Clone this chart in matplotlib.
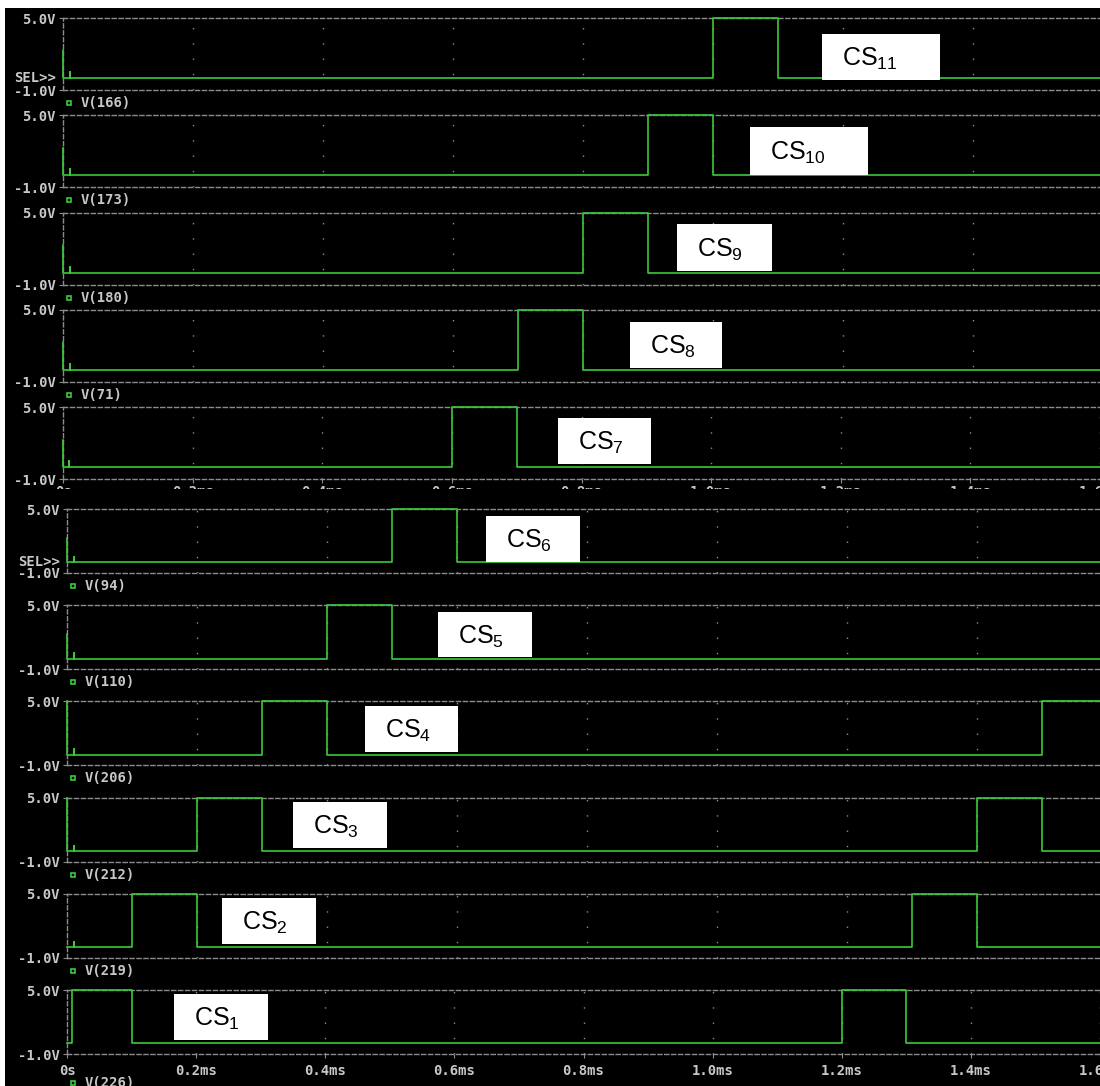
import matplotlib
matplotlib.use('Agg')
import matplotlib.pyplot as plt
from matplotlib.patches import Rectangle
from matplotlib.lines import Line2D
import numpy as np

W, H = 1100, 1086

# chip-select signals, top to bottom (two stacked simulator screens)
cs_index = ['11', '10', '9', '8', '7', '6', '5', '4', '3', '2', '1']
node_below = ['V(166)', 'V(173)', 'V(180)', 'V(71)', None,
              'V(94)', 'V(110)', 'V(206)', 'V(212)', 'V(219)', 'V(226)']
# pulse edges in ms (high = 5 V, low = 0 V)
pulse_on = [[1.0], [0.9], [0.8], [0.7], [0.6], [0.5], [0.4],
            [0.3, 1.5], [0.2, 1.4], [0.1, 1.3], [0.008, 1.2]]
pulse_off = [[1.1], [1.0], [0.9], [0.8], [0.7], [0.6], [0.5],
             [0.4, 1.6], [0.3, 1.5], [0.2, 1.4], [0.1, 1.3]]
start_spike = [2.3, 2.3, 2.3, 2.3, 2.3, 2.3, 2.3, 5.0, 5.0, 0.0, 0.0]
glitch_v = [0.5, 0.5, 0.5, 0.5, 0.5, 0.5, 0.5, 0.5, 0.5, 0.5, 0.0]
glitch_t = 0.01
t_end = 1.7
tick_t = [0, 0.2, 0.4, 0.6, 0.8, 1.0, 1.2, 1.4, 1.6]
tick_lbl = ['0s', '0.2ms', '0.4ms', '0.6ms', '0.8ms', '1.0ms', '1.2ms', '1.4ms', '1.6ms']

GREEN = '#3cc83c'
GRID = '#8c8c8c'
TXT = '#c8c8c8'
MONO = dict(family='DejaVu Sans Mono', weight='bold', size=10, color=TXT)

fig = plt.figure(figsize=(W / 100, H / 100), dpi=100, facecolor='white')


def fx(x):
    return x / W


def fy(y):
    return 1 - y / H


def screen(ytop, ybot):
    s = fig.add_axes([fx(5), fy(ybot), fx(W - 5), (ybot - ytop) / H])
    s.set_facecolor('black')
    s.set_xticks([])
    s.set_yticks([])
    for sp in s.spines.values():
        sp.set_visible(False)


def trace(i):
    t = [0, 0]
    v = [start_spike[i], 0]
    if glitch_v[i] > 0:
        t += [glitch_t, glitch_t, glitch_t]
        v += [0, glitch_v[i], 0]
    for a, b in zip(pulse_on[i], pulse_off[i]):
        t += [a, a, b, b]
        v += [0, 5, 5, 0]
    t.append(t_end)
    v.append(0)
    return t, v


def panel(i, x0, ytop, ybot, last, sel, xpad):
    xmax = (W - x0) / 650.0
    ax = fig.add_axes([fx(x0), fy(ybot), fx(W - x0), (ybot - ytop) / H])
    ax.set_facecolor('none')
    ax.set_xlim(0, xmax)
    ax.set_ylim(-1, 5)
    for k in ['top', 'bottom', 'left']:
        ax.spines[k].set_color(GRID)
        ax.spines[k].set_linewidth(1.0)
        ax.spines[k].set_linestyle((0, (3, 2)))
    ax.spines['right'].set_visible(False)
    ax.vlines(tick_t[1:], -1, 5, colors=GRID, linewidth=1.0,
              linestyles=[(0, (1, 10))])
    t, v = trace(i)
    ax.plot(t, v, color=GREEN, lw=1.2, clip_on=False, zorder=3)

    ax.set_yticks([-1, 5])
    ax.set_yticklabels(['-1.0V', '5.0V'], **MONO)
    ax.tick_params(axis='y', direction='inout', length=6, color=GRID, pad=2)
    if last:
        ax.set_xticks(tick_t)
        ax.set_xticklabels(tick_lbl, **MONO)
        ax.tick_params(axis='x', direction='out', length=3, color=GRID, pad=xpad)
    else:
        ax.set_xticks([])

    y0 = ytop + (ybot - ytop) * 5 / 6
    if sel:
        fig.text(fx(x0 - 7), fy(y0), 'SEL>>', ha='right', va='center', **MONO)
    if node_below[i]:
        yl = ybot + (13 if not last else 29)
        fig.add_artist(Line2D([fx(x0 + 6)], [fy(yl)], marker='s', ms=3.5,
                              mfc='none', mec=GREEN, mew=1.2,
                              transform=fig.transFigure))
        fig.text(fx(x0 + 18), fy(yl), node_below[i], ha='left', va='center', **MONO)


# top screen
screen(8, 489)
for k in range(5):
    ytop = 18 + k * 97.3
    panel(k, 63, ytop, ytop + 72, k == 4, k == 0, 1.5)

# bottom screen (covers the overflow of the top screen's axis labels)
screen(489, H)
for k in range(6):
    ytop = 509 + k * 96.2
    panel(5 + k, 67, ytop, ytop + 64, k == 5, k == 0, 4)

# white label boxes (pixel layout)
boxes = [(822, 34, 118, 46), (750, 127, 118, 48), (677, 224, 95, 47),
         (630, 322, 92, 46), (558, 418, 93, 46), (486, 516, 94, 46),
         (438, 612, 94, 45), (365, 706, 93, 46), (293, 802, 94, 46),
         (222, 898, 94, 46), (174, 994, 94, 46)]
plt.rcParams['mathtext.default'] = 'regular'
for (bx, by, bw, bh), n in zip(boxes, cs_index):
    fig.add_artist(Rectangle((fx(bx), fy(by + bh)), bw / W, bh / H,
                             transform=fig.transFigure, facecolor='white',
                             edgecolor='none', zorder=2))
    fig.text(fx(bx + 20), fy(by + bh / 2 + 2), 'CS$_{%s}$' % n,
             family='Liberation Sans', fontsize=18, color='black',
             ha='left', va='center', zorder=4)

fig.savefig('out.png', dpi=100, facecolor='white')
